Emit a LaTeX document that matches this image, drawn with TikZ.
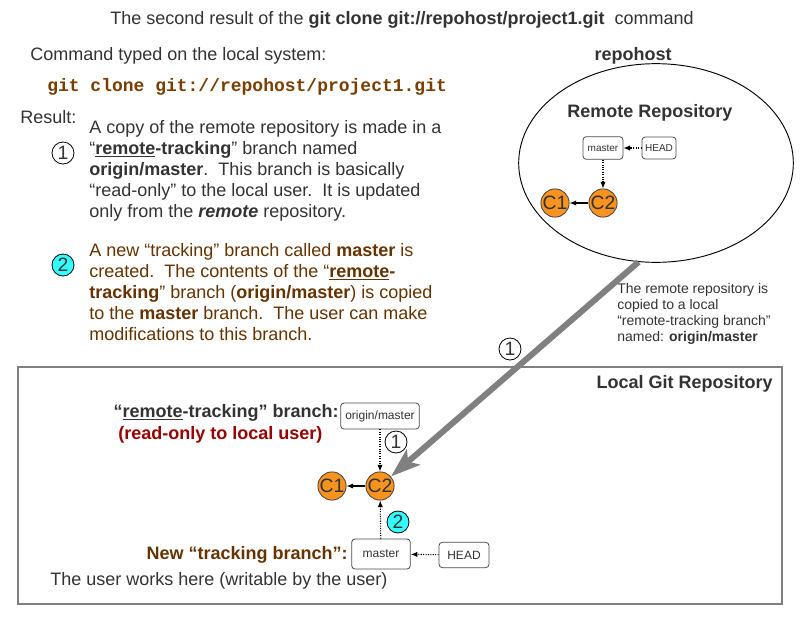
\documentclass[tikz,border=0pt]{standalone}
\usepackage{fontspec}
\setmainfont{Liberation Sans}
\setmonofont{Liberation Mono}
\usetikzlibrary{arrows.meta,shapes.geometric,positioning}
\definecolor{txtgrey}{HTML}{333333}
\definecolor{gitbrown}{HTML}{663300}
\definecolor{cmdbrown}{HTML}{7A3E00}
\definecolor{darkred}{HTML}{990000}
\definecolor{commitorange}{HTML}{F7931E}
\definecolor{numcyan}{HTML}{33FFFF}
\begin{document}
\begin{tikzpicture}[x=0.75pt,y=-0.75pt,
  every node/.style={inner sep=0pt,text=txtgrey},
  txt/.style={font=\fontsize{13.5}{15.75}\selectfont,align=left},
  note/.style={font=\fontsize{10.5}{12}\selectfont,align=left},
  commit/.style={circle,draw=black!75,line width=0.6pt,fill=commitorange,minimum size=19.5pt,font=\fontsize{14.5}{14}\selectfont},
  branchbox/.style={draw=black!70,line width=0.6pt,rounded corners=2.5pt,fill=white},
  stepnum/.style={circle,draw=black,line width=0.6pt,fill=white,minimum size=16.5pt,font=\fontsize{14.5}{14}\selectfont},
  parent/.style={-{Latex[length=5pt,width=4pt]},black,line width=0.8pt},
  pointer/.style={-{Latex[length=5pt,width=4pt]},black,densely dotted,line width=0.8pt}]
  \useasboundingbox[fill=white] (0,0) rectangle (800,618);

  % heading and command
  \node[txt] (title) at (402,20) {The second result of the \textbf{git clone git://repohost/project1.git}\ \ command};
  \node[txt,anchor=west] (cmdlabel) at (30,56) {Command typed on the local system:};
  \node[anchor=west,text=cmdbrown,font=\fontsize{13.5}{15.75}\selectfont\ttfamily\bfseries] (cmd) at (47,87) {git clone git://repohost/project1.git};
  \node[txt,anchor=west] (result) at (20,117) {Result:};

  % result 1
  \node[stepnum] (num1) at (63,153) {1};
  \node[txt,anchor=north west] (para1) at (89,120) {A copy of the remote repository is made in a\\
    “\textbf{\underline{remote}-tracking}” branch named\\
    \textbf{origin/master}.\ \ This branch is basically\\
    “read-only” to the local user.\ \ It is updated\\
    only from the \textbf{\textit{remote}} repository.};

  % result 2
  \node[stepnum,fill=numcyan] (num2) at (63,265) {2};
  \node[txt,anchor=north west,text=gitbrown] (para2) at (89,243) {A new “tracking” branch called \textbf{master} is\\
    created.\ \ The contents of the “\textbf{\underline{remote}-}\\
    \textbf{tracking}” branch (\textbf{origin/master}) is copied\\
    to the \textbf{master} branch.\ \ The user can make\\
    modifications to this branch.};

  % remote side
  \node[txt,font=\fontsize{13.5}{15.75}\selectfont\bfseries] (host) at (633,56) {repohost};
  \node[ellipse,draw=black,line width=0.7pt,minimum width=206pt,minimum height=149pt] (remote) at (656,163) {};
  \node[txt,font=\fontsize{13.5}{15.75}\selectfont\bfseries] (remotelabel) at (650,113) {Remote Repository};
  \node[branchbox,minimum width=30pt,minimum height=17pt,font=\fontsize{7.5}{8}\selectfont] (rmaster) at (603,148) {master};
  \node[branchbox,minimum width=25.5pt,minimum height=16.5pt,font=\fontsize{7.5}{8}\selectfont] (rhead) at (659,148) {HEAD};
  \node[commit] (rc2) at (603,203) {C2};
  \node[commit] (rc1) at (555,203) {C1};
  \draw[pointer] (rhead) -- (rmaster);
  \draw[pointer] (rmaster) -- (rc2);
  \draw[parent] (rc2) -- (rc1);

  \node[note,anchor=north west] (copynote) at (617,283) {The remote repository is\\
    copied to a local\\
    “remote-tracking branch”\\
    named: \textbf{origin/master}};

  % local repository
  \node[draw=black!50,line width=1.1pt,minimum width=573pt,minimum height=177.75pt] (local) at (400,485.5) {};
  \node[txt,anchor=east,font=\fontsize{13.5}{15.75}\selectfont\bfseries] (locallabel) at (773,384) {Local Git Repository};
  \node[branchbox,minimum width=59pt,minimum height=19.5pt,font=\fontsize{9}{10}\selectfont] (origin) at (380,416) {origin/master};
  \node[commit] (lc2) at (380,486) {C2};
  \node[commit] (lc1) at (332,486) {C1};
  \node[branchbox,minimum width=44pt,minimum height=22.5pt,font=\fontsize{9}{10}\selectfont] (lmaster) at (381,554) {master};
  \node[branchbox,minimum width=37.5pt,minimum height=19pt,font=\fontsize{9}{10}\selectfont] (lhead) at (464,555) {HEAD};
  \node[stepnum] (lnum1) at (396,442) {1};
  \node[stepnum,fill=numcyan] (lnum2) at (398,522) {2};
  \draw[pointer] (origin) -- (lc2);
  \draw[pointer] (lmaster) -- (lc2);
  \draw[pointer] (lhead) -- (lmaster);
  \draw[parent] (lc2) -- (lc1);

  \node[txt,anchor=east,font=\fontsize{13.5}{15.75}\selectfont\bfseries] (rtlabel) at (339,413) {“\underline{remote}-tracking” branch:};
  \node[txt,anchor=west,text=darkred,font=\fontsize{13.5}{15.75}\selectfont\bfseries] (readonly) at (118,435) {(read-only to local user)};
  \node[txt,anchor=east,text=gitbrown,font=\fontsize{13.5}{15.75}\selectfont\bfseries] (tracklabel) at (348,555) {New “tracking branch”:};
  \node[txt,anchor=west] (userlabel) at (50,581) {The user works here (writable by the user)};

  % copy arrow
  \draw[black!50,line width=4.5pt,-{Stealth[length=22pt,width=15pt,inset=5pt]}] (remote.260) -- (lc2);
  \node[stepnum] (arrownum) at (510,349) {1};
\end{tikzpicture}
\end{document}
